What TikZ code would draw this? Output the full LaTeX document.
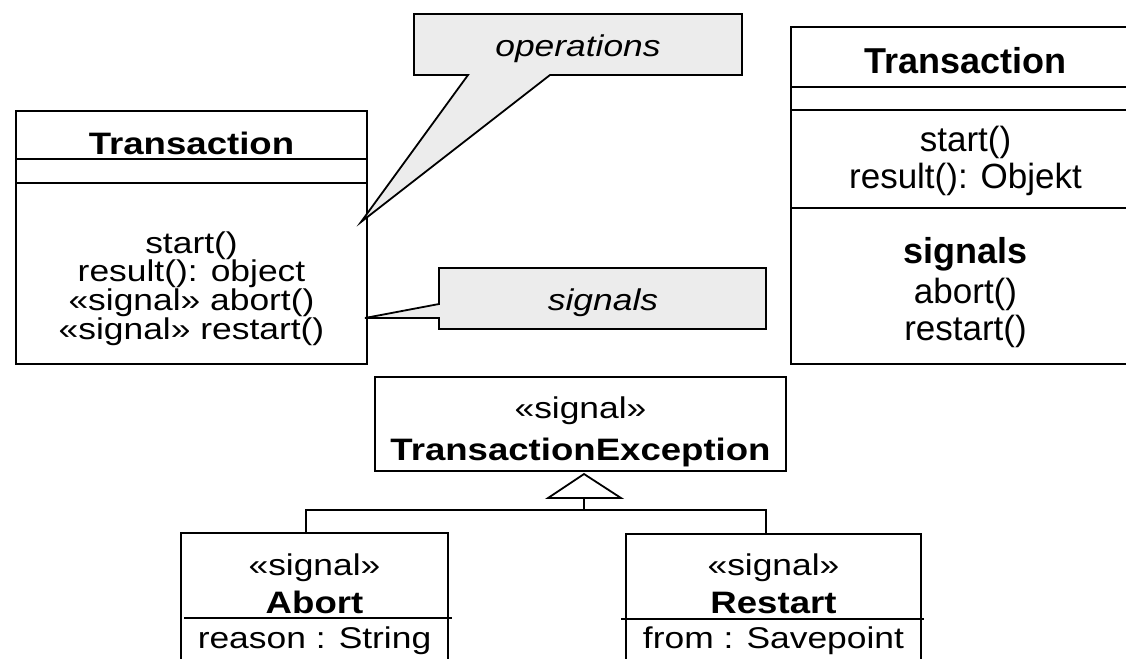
\documentclass[tikz,border=0pt]{standalone}
\usepackage{fontspec}
\setmainfont{Liberation Sans}[FakeStretch=1.18]
\newfontfamily\narrowface{Liberation Sans}
\definecolor{notefill}{RGB}{236,236,236}
\begin{document}
\begin{tikzpicture}[x=1pt,y=-1pt,
  line width=1.8pt,
  box/.style={draw, inner sep=0pt, outer sep=0pt},
  txt/.style={anchor=base, inner sep=0pt, font=\fontsize{30}{30}\selectfont},
  btxt/.style={anchor=base, inner sep=0pt, font=\fontsize{31}{31}\selectfont\bfseries},
  itxt/.style={anchor=base, inner sep=0pt, font=\fontsize{30}{30}\selectfont\itshape},
  rtxt/.style={anchor=base, inner sep=0pt, font=\narrowface\fontsize{35}{35}\selectfont},
  rbtxt/.style={anchor=base, inner sep=0pt, font=\narrowface\fontsize{36}{36}\selectfont\bfseries},
  note/.style={draw, fill=notefill, line join=miter}]
\clip (0,0) rectangle (1126,658);

% ---- class Transaction with stereotyped operations
\node[box, minimum width=351pt, minimum height=253pt] (cl) at (191.5,237.5) {};
\draw (cl.west |- 0,159) -- (cl.east |- 0,159);
\draw (cl.west |- 0,183) -- (cl.east |- 0,183);
\node[btxt] (clname) at (191.5,154) {Transaction};
\node[txt] (clop1) at (191.5,253) {start()};
\node[txt] (clop2) at (191.5,281) {result(): object};
\node[txt] (clop3) at (191.5,310) {«signal» abort()};
\node[txt] (clop4) at (191.5,339) {«signal» restart()};

% ---- note: operations
\coordinate (optip) at (361,222);
\draw[note] (414,14) -- (742,14) -- (742,75) -- (550,75) -- (optip) -- (468,75) -- (414,75) -- cycle;
\node[itxt] (opnote) at (578,57) {operations};

% ---- note: signals
\coordinate (sigtip) at (365,318);
\draw[note] (439,268) -- (766,268) -- (766,329) -- (439,329) -- (439,318) -- (sigtip) -- (439,304) -- cycle;
\node[itxt] (signote) at (603,310) {signals};

% ---- class Transaction with a signals compartment
\node[box, minimum width=349pt, minimum height=337pt] (cr) at (965.5,195.5) {};
\draw (cr.west |- 0,87) -- (cr.east |- 0,87);
\draw (cr.west |- 0,110) -- (cr.east |- 0,110);
\draw (cr.west |- 0,208) -- (cr.east |- 0,208);
\node[rbtxt] (crname) at (965.5,74) {Transaction};
\node[rtxt] (crop1) at (965.5,151) {start()};
\node[rtxt] (crop2) at (965.5,188) {result(): Objekt};
\node[rbtxt] (crsig) at (965.5,263) {signals};
\node[rtxt] (crsig1) at (965.5,303) {abort()};
\node[rtxt] (crsig2) at (965.5,340) {restart()};

% ---- signal hierarchy
\node[box, minimum width=411pt, minimum height=94pt] (exc) at (580.5,424) {};
\node[txt] (excst) at (580.5,418) {«signal»};
\node[btxt] (excname) at (580.5,460) {TransactionException};

\node[box, minimum width=267pt, minimum height=167pt] (ab) at (314.5,616.5) {};
\draw (184,618) -- (452,618);
\node[txt] (abst) at (314.5,575) {«signal»};
\node[btxt] (abname) at (314.5,613) {Abort};
\node[txt] (abattr) at (314.5,648) {reason : String};

\node[box, minimum width=295pt, minimum height=166pt] (rs) at (773.5,617) {};
\draw (621,619) -- (924,619);
\node[txt] (rsst) at (773.5,575) {«signal»};
\node[btxt] (rsname) at (773.5,613) {Restart};
\node[txt] (rsattr) at (773.5,648) {from : Savepoint};

% generalization: open triangle with a shared tree line
\coordinate (apex) at (584,474);
\coordinate (tribase) at (584,498);
\coordinate (join) at (584,510);
\draw (apex) -- (621,498) -- (548,498) -- cycle;
\draw (tribase) -- (join);
\draw (ab.north -| 306,0) |- (join) -| (rs.north -| 766,0);
\end{tikzpicture}
\end{document}
